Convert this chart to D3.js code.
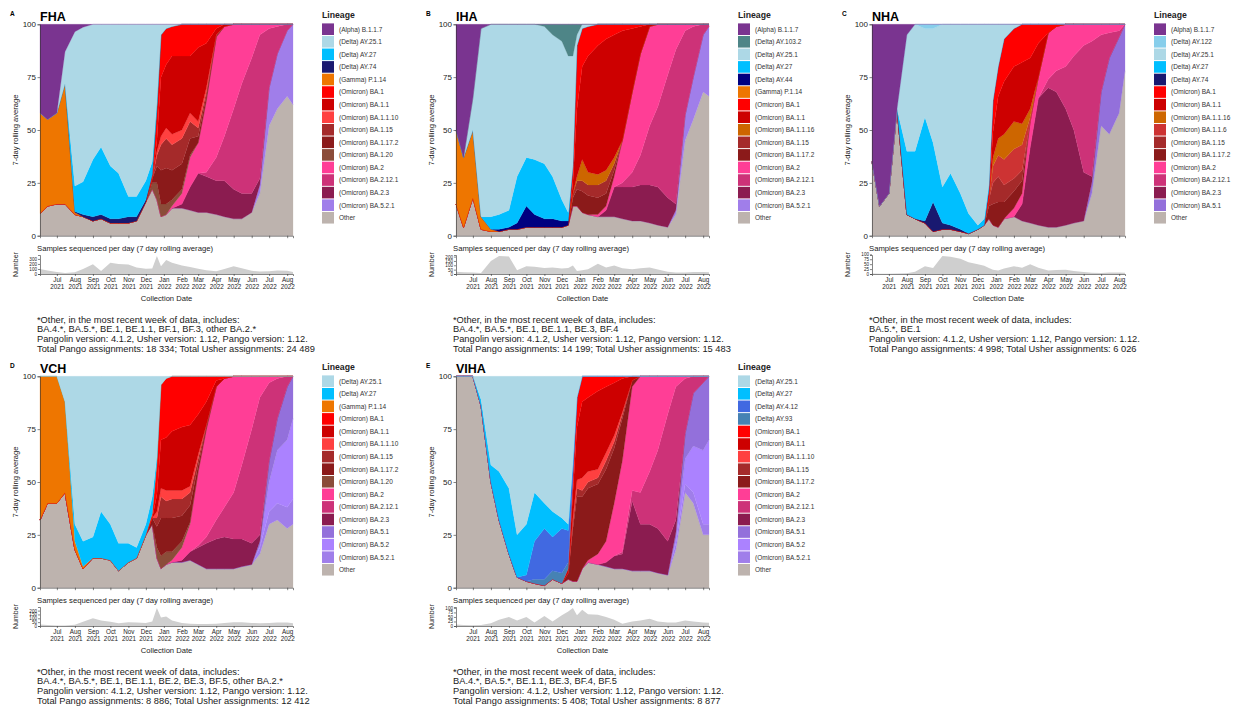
<!DOCTYPE html>
<html>
<head>
<meta charset="utf-8">
<script src="https://cdn.jsdelivr.net/npm/d3@7"></script>
<style>
  body { margin: 0; background: #fff; }
  svg { display: block; font-family: "Liberation Sans", Arial, sans-serif; }
</style>
</head>
<body>
<svg id="chart" width="1234" height="709"></svg>
<script>
// sample dates shared by every panel (7-day rolling averages)
const dates = ["2021-06-02","2021-06-15","2021-07-01","2021-07-15","2021-08-01","2021-08-15",
  "2021-09-01","2021-09-15","2021-10-01","2021-10-15","2021-11-01","2021-11-15","2021-12-01",
  "2021-12-12","2021-12-20","2021-12-27","2022-01-05","2022-01-15","2022-02-01","2022-02-15",
  "2022-03-01","2022-03-15","2022-04-01","2022-04-15","2022-05-01","2022-05-15","2022-06-01",
  "2022-06-15","2022-07-01","2022-07-15","2022-08-01","2022-08-11"];

// ---- FHA ----
const fhaLineages = ["(Alpha) B.1.1.7","(Delta) AY.25.1","(Delta) AY.27","(Delta) AY.74","(Gamma) P.1.14",
  "(Omicron) BA.1","(Omicron) BA.1.1","(Omicron) BA.1.1.10","(Omicron) BA.1.15","(Omicron) BA.1.17.2",
  "(Omicron) BA.1.20","(Omicron) BA.2","(Omicron) BA.2.12.1","(Omicron) BA.2.3","(Omicron) BA.5.2.1","Other"];
const fhaShares = [
  [42,45,42,13,3.5,1.4,0,0,0,0,0,0,0,0,0,0,0,0,0,0,0,0,0,0,0,0,0,0,0,0,0,0],
  [0,0,0,15,73,73,64,58,67,70.5,81.5,81.5,74,65,37,5,2,1,0,0,0,0,0,0,0,0,0,0,0,0,0,0],
  [0,0,0,0,12,15.5,27,32,25,21.5,9.5,9.5,9,6,3,0,0,0,0,0,0,0,0,0,0,0,0,0,0,0,0,0],
  [0,0,0,0,0.5,1,2,2,2,2,3,2,1,0,0,0,0,0,0,0,0,0,0,0,0,0,0,0,0,0,0,0],
  [47.5,41,43,57,1,0,0,0,0,0,0,0,0,0,0,0,0,0,0,0,0,0,0,0,0,0,0,0,0,0,0,0],
  [0,0,0,0,0,0,0,0,0,0,0,0,0,2,15,20,17,14,15,15,11,9,2,0,0,0,0,0,0,0,0,0],
  [0,0,0,0,0,0,0,0,0,0,0,0,0,0,5,28,30,37,35,27,35,21,3,1,0,0,0,0,0,0,0,0],
  [0,0,0,0,0,0,0,0,0,0,0,0,0,0,2,4,5,5,4,4,3,2,0,0,0,0,0,0,0,0,0,0],
  [0,0,0,0,0,0,0,0,0,0,0,0,0,0,5,12,14,12,12,8,4,2,1,0,0,0,0,0,0,0,0,0],
  [0,0,0,0,0,0,0,0,0,0,0,0,0,2,8,16,17,14,12,8,3,2,0,0,0,0,0,0,0,0,0,0],
  [0,0,0,0,0,0,0,0,0,0,0,0,0,3,8,6,5,3,2,1,0,0,0,0,0,0,0,0,0,0,0,0],
  [0,0,0,0,0,0,0,0,0,0,0,0,0,0,0,0,0,1,5,14,14.5,34,57,52,40,28,16,5,2,1,0,0],
  [0,0,0,0,0,0,0,0,0,0,0,0,0,0,0,0,0,0,0,0,0,2,11,21,38,52,64,68,28,13,3,0],
  [0,0,0,0,0,0,0,0,0,0,0,0,0,0,0,0,0,0,2,11,18.5,17,16,17,14,12,9,3,0,0,0,0],
  [0,0,0,0,0,0,0,0,0,0,0,0,0,0,0,0,0,0,0,0,0,0,0,0,0,0,0,4,18,26,31,38],
  [10.5,14,15,15,10,9,7,8,6,6,6,7,16,22,17,9,10,13,13,12,11,11,10,9,8,8,11,20,52,60,66,62]
];
const fhaSamples = [98,70,42,20,35,98,195,60,224,200,190,130,105,110,360,155,280,225,168,140,105,77,56,98,155,112,63,49,56,70,63,42];
const fhaSampleTicks = [0,100,200,300];
const fhaNote = ["*Other, in the most recent week of data, includes:",
  "BA.4.*, BA.5.*, BE.1, BE.1.1, BF.1, BF.3, other BA.2.*",
  "Pangolin version: 4.1.2, Usher version: 1.12, Pango version: 1.12.",
  "Total Pango assignments: 18 334; Total Usher assignments: 24 489"];

// ---- IHA ----
const ihaLineages = ["(Alpha) B.1.1.7","(Delta) AY.103.2","(Delta) AY.25.1","(Delta) AY.27","(Delta) AY.44",
  "(Gamma) P.1.14","(Omicron) BA.1","(Omicron) BA.1.1","(Omicron) BA.1.1.16","(Omicron) BA.1.15",
  "(Omicron) BA.1.17.2","(Omicron) BA.2","(Omicron) BA.2.12.1","(Omicron) BA.2.3","(Omicron) BA.5.2.1","Other"];
const ihaShares = [
  [50,63,35,2,0,0,0,0,0,0,0,0,0,0,0,0,0,0,0,0,0,0,0,0,0,0,0,0,0,0,0,0],
  [0,0,0,0,0,0,0,0,0,0,1,5,8,15,15,5,0,0,0,0,0,0,0,0,0,0,0,0,0,0,0,0],
  [0,0,15,89,91,90,88,72,63,64,65,67,75,74,52,5,2,1,0,0,0,0,0,0,0,0,0,0,0,0,0,0],
  [0,0,0,0,6,7,8,22,23,26,26,20,10,4,0,0,0,0,0,0,0,0,0,0,0,0,0,0,0,0,0,0],
  [0,0,0,0,0,1,1,3,10,6,4,4,3,2,0,0,0,0,0,0,0,0,0,0,0,0,0,0,0,0,0,0],
  [35,33,32,6,1,0,0,0,0,0,0,0,0,0,0,0,0,0,0,0,0,0,0,0,0,0,0,0,0,0,0,0],
  [0,0,0,0,0,0,0,0,0,0,0,0,0,0,8,30,18,14,10,7,5,3,2,1,0,0,0,0,0,0,0,0],
  [0,0,0,0,0,0,0,0,0,0,0,0,0,0,5,32,44,55,61,62,58,52,30,13,1,0,0,0,0,0,0,0],
  [0,0,0,0,0,0,0,0,0,0,0,0,0,0,0,2,10,6,5,5,3,0,0,0,0,0,0,0,0,0,0,0],
  [0,0,0,0,0,0,0,0,0,0,0,0,0,0,2,4,5,5,6,6,3,0,0,0,0,0,0,0,0,0,0,0],
  [0,0,0,0,0,0,0,0,0,0,0,0,0,0,4,8,10,9,8,6,3,0,0,0,0,0,0,0,0,0,0,0],
  [0,0,0,0,0,0,0,0,0,0,0,0,0,0,0,0,0,0,1,2,5,20,38,48,47,39,24,12,3,1,0,0],
  [0,0,0,0,0,0,0,0,0,0,0,0,0,0,0,0,0,0,0,0,0,2,7,14,28,38,58,73,40,24,5,1],
  [0,0,0,0,0,0,0,0,0,0,0,0,0,0,0,0,0,0,0,3,14,15,16,17,18,18,14,3,0,0,0,0],
  [0,0,0,0,0,0,0,0,0,0,0,0,0,0,0,0,0,0,0,0,0,0,0,0,0,0,0,2,12,20,27,33],
  [15,4,18,3,2,2,3,3,4,4,4,4,4,5,14,14,11,10,9,9,9,8,7,7,6,5,4,10,45,55,68,66]
];
const ihaSamples = [27,20,16,12,150,208,200,43,90,82,70,75,63,70,98,35,43,55,118,75,98,67,55,67,75,51,27,16,16,24,24,20];
const ihaSampleTicks = [0,50,100,150,200];
const ihaNote = ["*Other, in the most recent week of data, includes:",
  "BA.4.*, BA.5.*, BE.1, BE.1.1, BE.3, BF.4",
  "Pangolin version: 4.1.2, Usher version: 1.12, Pango version: 1.12.",
  "Total Pango assignments: 14 199; Total Usher assignments: 15 483"];

// ---- NHA ----
const nhaLineages = ["(Alpha) B.1.1.7","(Delta) AY.122","(Delta) AY.25.1","(Delta) AY.27","(Delta) AY.74",
  "(Omicron) BA.1","(Omicron) BA.1.1","(Omicron) BA.1.1.16","(Omicron) BA.1.1.6","(Omicron) BA.1.15",
  "(Omicron) BA.1.17.2","(Omicron) BA.2","(Omicron) BA.2.12.1","(Omicron) BA.2.3","(Omicron) BA.5.1","Other"];
const nhaShares = [
  [65,86,80,40,5,0,0,0,0,0,0,0,0,0,0,0,0,0,0,0,0,0,0,0,0,0,0,0,0,0,0,0],
  [0,0,0,0,0,0,2,2,0,0,0,0,0,0,0,0,0,0,0,0,0,0,0,0,0,0,0,0,0,0,0,0],
  [0,0,0,0,55,60,42,54,77,70.5,80,89.5,95,92,76,36,20,7,2,0,0,0,0,0,0,0,0,0,0,0,0,0],
  [0,0,0,0,30,32,49,28,17,24.5,17,9.5,2,3,2,0,0,0,0,0,0,0,0,0,0,0,0,0,0,0,0,0],
  [0,0,0,0,0,0,1,14,3,2,1,0,0,0,0,0,0,0,0,0,0,0,0,0,0,0,0,0,0,0,0,0],
  [0,0,0,0,0,0,0,0,0,0,0,0,0,0,5,15,14,20,18,18,16,9,4,1,0,0,0,0,0,0,0,0],
  [0,0,0,0,0,0,0,0,0,0,0,0,0,0,0,12,20,25,26,29,24,16,0,0,0,0,0,0,0,0,0,0],
  [0,0,0,0,0,0,0,0,0,0,0,0,0,0,0,4,8,12,13,10,4,0,0,0,0,0,0,0,0,0,0,0],
  [0,0,0,0,0,0,0,0,0,0,0,0,0,0,0,8,10,12,14,12,2,0,0,0,0,0,0,0,0,0,0,0],
  [0,0,0,0,0,0,0,0,0,0,0,0,0,0,3,10,12,8,6,5,0,0,0,0,0,0,0,0,0,0,0,0],
  [0,0,0,0,0,0,0,0,0,0,0,0,0,0,6,10,12,8,8,6,0,0,0,0,0,0,0,0,0,0,0,0],
  [0,0,0,0,0,0,0,0,0,0,0,0,0,0,0,0,0,0,4,5,12,10,22,21,20,15,10,8,5,4,3,0],
  [0,0,0,0,0,0,0,0,0,0,0,0,0,0,0,0,0,0,0,0,0,0,4,10,20,35,60,64,27,12,3,0],
  [0,0,0,0,0,0,0,0,0,0,0,0,0,0,0,0,0,0,0,8,36,60,66,64,55,44,23,3,0,0,0,0],
  [0,0,0,0,0,0,0,0,0,0,0,0,0,0,0,0,0,0,0,0,0,0,0,0,0,0,0,5,16,36,36,22],
  [35,14,20,60,10,8,6,2,3,3,2,1,3,5,8,5,4,8,9,7,6,5,4,4,5,6,7,20,52,48,58,78]
];
const nhaSamples = [2,1,1,2,4,12,40,30,92,88,78,60,50,42,30,22,18,28,40,32,50,32,18,20,22,15,10,6,5,7,7,6];
const nhaSampleTicks = [0,25,50,75,100];
const nhaNote = ["*Other, in the most recent week of data, includes:",
  "BA.5.*, BE.1",
  "Pangolin version: 4.1.2, Usher version: 1.12, Pango version: 1.12.",
  "Total Pango assignments: 4 998; Total Usher assignments: 6 026"];

// ---- VCH ----
const vchLineages = ["(Delta) AY.25.1","(Delta) AY.27","(Gamma) P.1.14","(Omicron) BA.1","(Omicron) BA.1.1",
  "(Omicron) BA.1.1.10","(Omicron) BA.1.15","(Omicron) BA.1.17.2","(Omicron) BA.1.20","(Omicron) BA.2",
  "(Omicron) BA.2.12.1","(Omicron) BA.2.3","(Omicron) BA.5.1","(Omicron) BA.5.2","(Omicron) BA.5.2.1","Other"];
const vchShares = [
  [0,0,0,12,70,78,76,64,70,79,79,81,70,57,38,4,1,0,0,0,0,0,0,0,0,0,0,0,0,0,0,0],
  [0,0,0,0,8,12,10,22,17,13,9,5,5,8,3,0,0,0,0,0,0,0,0,0,0,0,0,0,0,0,0,0],
  [68,60,60,43,4,1,0,0,0,0,0,0,0,0,0,0,0,0,0,0,0,0,0,0,0,0,0,0,0,0,0,0],
  [0,0,0,0,0,0,0,0,0,0,0,0,0,2,15,26,28,26,24,23,18,12,2,1,0,0,0,0,0,0,0,0],
  [0,0,0,0,0,0,0,0,0,0,0,0,0,0,8,23,25,28,30,29,19,11,3,0,0,0,0,0,0,0,0,0],
  [0,0,0,0,0,0,0,0,0,0,0,0,0,0,3,4,5,4,4,3,2,0,0,0,0,0,0,0,0,0,0,0],
  [0,0,0,0,0,0,0,0,0,0,0,0,0,0,4,10,8,9,8,6,3,1,0,0,0,0,0,0,0,0,0,0],
  [0,0,0,0,0,0,0,0,0,0,0,0,0,3,10,18,16,16,12,8,3,1,0,0,0,0,0,0,0,0,0,0],
  [0,0,0,0,0,0,0,0,0,0,0,0,0,0,5,6,6,4,3,1,0,0,0,0,0,0,0,0,0,0,0,0],
  [0,0,0,0,0,0,0,0,0,0,0,0,0,0,0,0,0,1,6,13,35,51,63,61,55,42,25,10,3,1,0,0],
  [0,0,0,0,0,0,0,0,0,0,0,0,0,0,0,0,0,0,0,0,1,3,9,14,22,35,54,65,37,19,5,0],
  [0,0,0,0,0,0,0,0,0,0,0,0,0,0,0,0,0,0,1,4,8,12,14,15,14,13,10,3,0,0,0,0],
  [0,0,0,0,0,0,0,0,0,0,0,0,0,0,0,0,0,0,0,0,0,0,0,0,0,0,0,2,10,15,25,20],
  [0,0,0,0,0,0,0,0,0,0,0,0,0,0,0,0,0,0,0,0,0,0,0,0,0,0,0,1,14,25,32,38],
  [0,0,0,0,0,0,0,0,0,0,0,0,0,0,0,0,0,0,0,0,0,0,0,0,0,0,0,3,6,8,10,12],
  [32,40,40,45,18,9,14,14,13,8,12,14,25,30,14,9,11,12,12,13,11,9,9,9,9,10,11,16,30,32,28,30]
];
const vchSamples = [20,12,8,6,15,55,100,70,55,35,50,45,40,60,235,110,125,70,40,30,25,25,30,40,50,50,40,35,40,45,45,35];
const vchSampleTicks = [0,50,100,150,200];
const vchNote = ["*Other, in the most recent week of data, includes:",
  "BA.4.*, BA.5.*, BE.1, BE.1.1, BE.2, BE.3, BF.5, other BA.2.*",
  "Pangolin version: 4.1.2, Usher version: 1.12, Pango version: 1.12.",
  "Total Pango assignments: 8 886; Total Usher assignments: 12 412"];

// ---- VIHA ----
const vihaLineages = ["(Delta) AY.25.1","(Delta) AY.27","(Delta) AY.4.12","(Delta) AY.93","(Omicron) BA.1",
  "(Omicron) BA.1.1","(Omicron) BA.1.1.10","(Omicron) BA.1.15","(Omicron) BA.1.17.2","(Omicron) BA.2",
  "(Omicron) BA.2.12.1","(Omicron) BA.2.3","(Omicron) BA.5.1","(Omicron) BA.5.2","(Omicron) BA.5.2.1","Other"];
const vihaShares = [
  [0,0,0,11,42,45,53,75,70,55,60,64,67,70,41,10,0,0,0,0,0,0,0,0,0,0,0,0,0,0,0,0],
  [0,0,0,3,8,23,31,20,24,23,12,12,5,3,0,0,0,0,0,0,0,0,0,0,0,0,0,0,0,0,0,0],
  [0,0,0,0,0,0,0,0,3,18,24,16,21,15,6,0,0,0,0,0,0,0,0,0,0,0,0,0,0,0,0,0],
  [0,0,0,0,0,0,0,0,0,2,3,4,5,3,0,0,0,0,0,0,0,0,0,0,0,0,0,0,0,0,0,0],
  [0,0,0,0,0,0,0,0,0,0,0,0,0,0,8,14,12,10,7,5,3,1,0,0,0,0,0,0,0,0,0,0],
  [0,0,0,0,0,0,0,0,0,0,0,0,0,2,12,25,36,35,37,31,25,16,2,0,0,0,0,0,0,0,0,0],
  [0,0,0,0,0,0,0,0,0,0,0,0,0,0,2,4,6,5,4,4,3,1,0,0,0,0,0,0,0,0,0,0],
  [0,0,0,0,0,0,0,0,0,0,0,0,0,0,3,4,3,3,3,4,3,2,0,0,0,0,0,0,0,0,0,0],
  [0,0,0,0,0,0,0,0,0,0,0,0,0,3,25,40,34,34,33,34,26,20,3,0,0,0,0,0,0,0,0,0],
  [0,0,0,0,0,0,0,0,0,0,0,0,0,0,0,0,0,1,5,10,25,43,49,55,45,35,18,5,1,0,0,0],
  [0,0,0,0,0,0,0,0,0,0,0,0,0,0,0,0,0,0,0,0,0,1,5,15,25,37,60,63,26,8,3,0],
  [0,0,0,0,0,0,0,0,0,0,0,0,0,0,0,0,0,0,0,2,6,7,33,22,22,21,16,6,0,0,0,0],
  [0,0,0,0,0,0,0,0,0,0,0,0,0,0,0,0,0,0,0,0,0,0,0,0,0,0,0,3,12,25,32,30],
  [0,0,0,0,0,0,0,0,0,0,0,0,0,0,0,0,0,0,0,0,0,0,0,0,0,0,0,2,12,22,35,40],
  [0,0,0,0,0,0,0,0,0,0,0,0,0,0,0,0,0,0,0,0,0,0,0,0,0,0,0,3,4,5,5,5],
  [100,100,100,86,50,32,16,5,3,2,1,4,2,4,3,3,9,12,11,10,9,9,8,8,8,7,6,18,45,40,25,25]
];
const vihaSamples = [8,5,4,5,15,35,50,30,50,20,55,25,60,80,100,60,90,65,62,50,35,12,25,30,40,25,20,20,30,25,20,18];
const vihaSampleTicks = [0,25,50,75,100];
const vihaNote = ["*Other, in the most recent week of data, includes:",
  "BA.4.*, BA.5.*, BE.1.1, BE.3, BF.4, BF.5",
  "Pangolin version: 4.1.2, Usher version: 1.12, Pango version: 1.12.",
  "Total Pango assignments: 5 408; Total Usher assignments: 8 877"];

const lineageColors = {
  "(Alpha) B.1.1.7": "#7A3490",
  "(Delta) AY.103.2": "#4E8587",
  "(Delta) AY.122": "#87CEEB",
  "(Delta) AY.25.1": "#ADD8E6",
  "(Delta) AY.27": "#00BFFF",
  "(Delta) AY.4.12": "#4169E1",
  "(Delta) AY.44": "#000080",
  "(Delta) AY.74": "#191970",
  "(Delta) AY.93": "#4682B4",
  "(Gamma) P.1.14": "#EE7600",
  "(Omicron) BA.1": "#FF0000",
  "(Omicron) BA.1.1": "#CD0000",
  "(Omicron) BA.1.1.10": "#FF4040",
  "(Omicron) BA.1.1.16": "#CD6600",
  "(Omicron) BA.1.1.6": "#CD3333",
  "(Omicron) BA.1.15": "#A52A2A",
  "(Omicron) BA.1.17.2": "#8B1A1A",
  "(Omicron) BA.1.20": "#8B4C39",
  "(Omicron) BA.2": "#FF3E96",
  "(Omicron) BA.2.12.1": "#CD3278",
  "(Omicron) BA.2.3": "#8B1C50",
  "(Omicron) BA.5.1": "#9370DB",
  "(Omicron) BA.5.2": "#AB82FF",
  "(Omicron) BA.5.2.1": "#A07EEA",
  "Other": "#BDB3AE"
};

const panels = [
  { letter: "A", title: "FHA",  ox: 0,   oy: 0,   names: fhaLineages,  shares: fhaShares,  samples: fhaSamples,  ticks: fhaSampleTicks,  note: fhaNote },
  { letter: "B", title: "IHA",  ox: 416, oy: 0,   names: ihaLineages,  shares: ihaShares,  samples: ihaSamples,  ticks: ihaSampleTicks,  note: ihaNote },
  { letter: "C", title: "NHA",  ox: 832, oy: 0,   names: nhaLineages,  shares: nhaShares,  samples: nhaSamples,  ticks: nhaSampleTicks,  note: nhaNote },
  { letter: "D", title: "VCH",  ox: 0,   oy: 352, names: vchLineages,  shares: vchShares,  samples: vchSamples,  ticks: vchSampleTicks,  note: vchNote },
  { letter: "E", title: "VIHA", ox: 416, oy: 352, names: vihaLineages, shares: vihaShares, samples: vihaSamples, ticks: vihaSampleTicks, note: vihaNote }
];

const parse = d3.timeParse("%Y-%m-%d");
const when = dates.map(parse);

const svg = d3.select("#chart");
svg.append("rect").attr("width", 1234).attr("height", 709).attr("fill", "#fff");

const x = d3.scaleTime().domain([when[0], when[when.length - 1]]).range([40, 293]);
const y = d3.scaleLinear().domain([0, 1]).range([235.7, 24.3]);
const monthTicks = d3.timeMonth.every(1);

function styleAxis(g) {
  g.selectAll(".domain").attr("stroke", "#333").attr("stroke-width", 0.6);
  g.selectAll(".tick line").attr("stroke", "#333").attr("stroke-width", 0.6);
  g.selectAll(".tick text").attr("fill", "#222").attr("font-family", "Liberation Sans, Arial, sans-serif");
}

panels.forEach(p => {
  const g = svg.append("g").attr("transform", `translate(${p.ox},${p.oy})`);

  // rows for stacking
  const rows = when.map((d, i) => {
    const r = { date: d };
    p.names.forEach((n, j) => { r[n] = p.shares[j][i] || 0; });
    return r;
  });
  const keys = p.names.slice().reverse(); // Other at bottom, first legend item on top
  const series = d3.stack().keys(keys).offset(d3.stackOffsetExpand)(rows);

  const area = d3.area()
    .x(d => x(d.data.date))
    .y0(d => y(d[0]))
    .y1(d => y(d[1]));

  g.append("g").selectAll("path")
    .data(series)
    .join("path")
    .attr("d", area)
    .attr("fill", s => lineageColors[s.key])
    .attr("stroke", s => lineageColors[s.key])
    .attr("stroke-width", 0.25);

  // main axes
  const ya = g.append("g").attr("transform", "translate(40,0)")
    .call(d3.axisLeft(y).tickValues([0, .25, .5, .75, 1]).tickFormat(d => d * 100).tickSize(2.5).tickPadding(1.5));
  ya.selectAll(".tick text").attr("font-size", 8);
  styleAxis(ya);
  const xa = g.append("g").attr("transform", "translate(0,235.7)")
    .call(d3.axisBottom(x).ticks(monthTicks).tickFormat("").tickSize(2.5));
  styleAxis(xa);

  g.append("text").attr("transform", "translate(17.5,130) rotate(-90)")
    .attr("text-anchor", "middle").attr("font-size", 7.6).attr("fill", "#222")
    .text("7-day rolling average");

  g.append("text").attr("x", 10).attr("y", 16).attr("font-size", 6.5).attr("font-weight", "bold")
    .text(p.letter);
  g.append("text").attr("x", 40).attr("y", 20.5).attr("font-size", 12.5).attr("font-weight", "bold")
    .text(p.title);

  // legend
  const lg = g.append("g").attr("transform", "translate(322,0)");
  lg.append("text").attr("x", 0).attr("y", 18).attr("font-size", 8.7).attr("font-weight", "bold")
    .attr("fill", "#222").text("Lineage");
  p.names.forEach((n, i) => {
    const yy = 23.4 + i * 12.57;
    lg.append("rect").attr("x", 0).attr("y", yy).attr("width", 12).attr("height", 11.6)
      .attr("fill", lineageColors[n]);
    lg.append("text").attr("x", 17).attr("y", yy + 8.2).attr("font-size", 6.5).attr("fill", "#333").text(n);
  });

  // samples per day
  const ys = d3.scaleLinear().domain([0, d3.max(p.samples) * 1.05]).range([274, 255]);
  g.append("text").attr("x", 37).attr("y", 250.5).attr("font-size", 7.7).attr("fill", "#222")
    .text("Samples sequenced per day (7 day rolling average)");
  g.append("path")
    .datum(p.samples.map((v, i) => ({ date: when[i], v: v })))
    .attr("d", d3.area().x(d => x(d.date)).y0(ys(0)).y1(d => ys(d.v)))
    .attr("fill", "#CFCFCF");
  const ysa = g.append("g").attr("transform", "translate(40,0)")
    .call(d3.axisLeft(ys).tickValues(p.ticks).tickSize(2).tickPadding(1));
  ysa.selectAll(".tick text").attr("font-size", 4.6);
  styleAxis(ysa);
  const xsa = g.append("g").attr("transform", "translate(0,274)")
    .call(d3.axisBottom(x).ticks(monthTicks).tickSize(2).tickPadding(1.5));
  styleAxis(xsa);
  xsa.selectAll(".tick text").each(function (d) {
    const t = d3.select(this).text("").attr("font-size", 6.3);
    t.append("tspan").attr("x", 0).attr("dy", "0.71em").text(d3.timeFormat("%b")(d));
    t.append("tspan").attr("x", 0).attr("dy", "1.05em").text(d3.timeFormat("%Y")(d));
  });
  g.append("text").attr("transform", "translate(17.5,264.5) rotate(-90)")
    .attr("text-anchor", "middle").attr("font-size", 7).attr("fill", "#222").text("Number");
  g.append("text").attr("x", 166.5).attr("y", 301).attr("text-anchor", "middle")
    .attr("font-size", 7.6).attr("fill", "#222").text("Collection Date");

  // footnote
  p.note.forEach((line, i) => {
    g.append("text").attr("x", 37).attr("y", 322.6 + i * 9.7).attr("font-size", 9.3)
      .attr("fill", "#1a1a1a").text(line);
  });
});
</script>
</body>
</html>
